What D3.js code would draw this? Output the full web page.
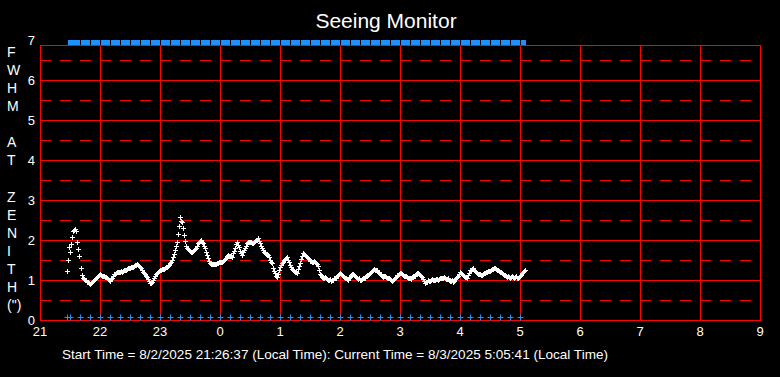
<!DOCTYPE html>
<html lang="en">
<head>
<meta charset="utf-8">
<title>Seeing Monitor</title>
<script src="https://d3js.org/d3.v7.min.js"></script>
<style>
  body { margin: 0; background: #000; }
  svg { display: block; background: #000; }
  text { font-family: "Liberation Sans", Arial, sans-serif; fill: #fff; }
</style>
</head>
<body>
<svg id="chart" width="780" height="377"></svg>
<script>
// ---- data ----
const chartTitle = "Seeing Monitor";
const yTitleLetters = ["F", "W", "H", "M", "", "A", "T", "", "Z", "E", "N", "I", "T", "H", "(\")"];
const yTicks = [0, 1, 2, 3, 4, 5, 6, 7];
const yHalfTicks = [0.5, 1.5, 2.5, 3.5, 4.5, 5.5, 6.5];
const xTickHours = [21, 22, 23, 0, 1, 2, 3, 4, 5, 6, 7, 8, 9];
const footerText = "Start Time = 8/2/2025 21:26:37 (Local Time): Current Time = 8/3/2025 5:05:41 (Local Time)";

// FWHM at zenith, [minutes after 21:00, arcsec]
const seeing = [
  [27,1.22],[28,1.50],[29,1.82],[30,1.70],[31,1.89],[32,2.07],[33,2.22],[34,2.25],[35,2.28],[36,2.22],
  [37,1.94],[38,1.78],[39,1.60],[41,1.30],[42,1.12],[43,1.06],[44,1.02],[45,1.00],[47,0.96],[49,0.92],
  [50,0.90],[51,0.93],[53,0.97],[55,1.02],[57,1.08],[59,1.12],[61,1.13],[63,1.10],[65,1.08],[67,1.06],
  [69,1.01],[70,0.98],[72,1.06],[74,1.14],[76,1.17],[78,1.19],[80,1.21],[82,1.20],[84,1.24],[86,1.26],
  [88,1.29],[90,1.31],[92,1.33],[94,1.34],[96,1.38],[97,1.40],[99,1.36],[101,1.30],[103,1.21],[105,1.14],
  [107,1.08],[109,0.97],[110,0.92],[112,0.96],[113,1.00],[115,1.10],[117,1.17],[119,1.22],[121,1.25],[123,1.27],
  [125,1.30],[127,1.33],[129,1.38],[130,1.42],[132,1.50],[133,1.57],[134,1.64],[135,1.75],[136,1.84],[137,1.94],
  [138,2.14],[139,2.35],[140,2.57],[141,2.48],[142,2.44],[143,2.29],[144,2.12],[145,1.98],[146,1.85],[147,1.80],
  [149,1.75],[151,1.71],[153,1.72],[155,1.77],[157,1.86],[158,1.92],[160,1.97],[161,2.00],[162,1.96],[163,1.92],
  [165,1.80],[166,1.71],[167,1.62],[168,1.54],[169,1.47],[170,1.42],[172,1.40],[174,1.39],[176,1.41],[178,1.43],
  [180,1.44],[182,1.46],[184,1.50],[185,1.52],[187,1.60],[188,1.63],[190,1.60],[192,1.58],[193,1.67],[195,1.79],
  [196,1.90],[197,1.96],[198,1.88],[199,1.83],[200,1.72],[202,1.63],[203,1.70],[204,1.75],[206,1.85],[207,1.92],
  [209,1.95],[210,1.96],[212,1.93],[213,1.92],[215,1.97],[217,2.00],[218,2.04],[219,1.98],[220,1.92],[221,1.85],
  [223,1.75],[225,1.68],[227,1.65],[228,1.63],[229,1.58],[230,1.50],[232,1.42],[233,1.30],[234,1.22],[235,1.17],
  [236,1.10],[237,1.07],[238,1.15],[239,1.25],[240,1.33],[241,1.38],[243,1.46],[245,1.52],[247,1.57],[248,1.50],
  [250,1.38],[251,1.32],[253,1.25],[255,1.21],[257,1.18],[258,1.28],[260,1.42],[261,1.52],[263,1.67],[265,1.62],
  [267,1.57],[269,1.52],[270,1.48],[272,1.46],[274,1.47],[275,1.46],[277,1.40],[278,1.35],[279,1.25],[280,1.15],
  [282,1.08],[284,1.06],[286,1.04],[287,1.03],[289,1.01],[291,0.98],[293,1.01],[295,1.04],[297,1.10],[299,1.15],
  [300,1.17],[302,1.12],[304,1.08],[306,1.05],[308,1.00],[310,1.08],[312,1.15],[314,1.13],[316,1.08],[318,1.02],
  [320,1.01],[322,1.03],[324,1.05],[326,1.09],[328,1.12],[330,1.18],[332,1.23],[334,1.27],[336,1.25],[338,1.21],
  [340,1.15],[342,1.10],[344,1.09],[346,1.08],[348,1.06],[350,1.02],[352,0.98],[354,1.03],[356,1.08],[358,1.13],
  [360,1.18],[362,1.15],[364,1.11],[366,1.09],[368,1.06],[370,1.04],[372,1.07],[374,1.10],[376,1.14],[378,1.18],
  [380,1.12],[382,1.07],[384,0.98],[385,0.93],[387,0.96],[389,0.98],[391,1.00],[393,1.00],[395,1.01],[397,1.02],
  [399,1.03],[401,1.05],[403,1.06],[405,1.04],[407,1.02],[409,1.00],[411,0.98],[413,0.96],[415,1.02],[417,1.07],
  [419,1.15],[420,1.21],[422,1.15],[423,1.12],[425,1.07],[427,1.04],[428,1.12],[430,1.25],[432,1.28],[433,1.29],
  [435,1.22],[437,1.17],[439,1.14],[441,1.12],[443,1.15],[445,1.18],[447,1.21],[449,1.23],[451,1.25],[453,1.28],
  [455,1.29],[457,1.26],[459,1.22],[461,1.19],[463,1.15],[465,1.12],[467,1.08],[469,1.07],[471,1.08],[473,1.08],
  [475,1.07],[477,1.06],[479,1.08],[481,1.12],[482,1.17],[484,1.22],[485,1.25]
];

// in-between readings that give the band its scatter
const seeingScatter = [
  [46,0.99],[48,0.94],[52,0.95],[54,1.00],[56,1.05],[58,1.10],[60,1.14],[62,1.11],[64,1.09],[66,1.07],
  [68,1.03],[71,1.02],[73,1.10],[75,1.16],[77,1.19],[79,1.20],[81,1.22],[83,1.22],[85,1.25],[87,1.27],
  [89,1.30],[91,1.33],[93,1.33],[95,1.37],[98,1.38],[100,1.33],[102,1.25],[104,1.17],[106,1.11],[108,1.02],
  [111,0.93],[114,1.05],[116,1.14],[118,1.20],[120,1.24],[122,1.27],[124,1.28],[126,1.32],[128,1.35],[131,1.46],
  [148,1.78],[150,1.72],[152,1.70],[154,1.74],[156,1.81],[159,1.95],[164,1.86],[171,1.41],[173,1.40],[175,1.40],
  [177,1.42],[179,1.44],[181,1.45],[183,1.48],[186,1.56],[189,1.61],[191,1.59],[194,1.72],[201,1.67],[205,1.80],
  [208,1.94],[211,1.94],[214,1.95],[216,1.99],[222,1.80],[224,1.71],[226,1.66],[231,1.46],[242,1.42],[244,1.49],
  [246,1.55],[249,1.44],[252,1.28],[254,1.23],[256,1.19],[259,1.35],[262,1.60],[264,1.65],[266,1.60],[268,1.55],
  [271,1.47],[273,1.46],[276,1.43],[281,1.12],[283,1.04],[285,1.08],[288,1.00],[290,1.03],[292,0.99],[294,1.06],
  [296,1.05],[298,1.13],[301,1.14],[303,1.11],[305,1.04],[307,1.03],[309,1.05],[311,1.12],[313,1.16],[315,1.09],
  [317,1.06],[319,1.04],[321,0.99],[323,1.06],[325,1.05],[327,1.13],[329,1.14],[331,1.20],[333,1.26],[335,1.24],
  [337,1.24],[339,1.17],[341,1.14],[343,1.07],[345,1.11],[347,1.05],[349,1.05],[351,1.00],[353,1.01],[355,1.05],
  [357,1.12],[359,1.15],[361,1.18],[363,1.12],[365,1.11],[367,1.07],[369,1.06],[371,1.03],[373,1.10],[375,1.11],
  [377,1.17],[379,1.15],[381,1.10],[383,1.03],[386,0.95],[388,0.99],[390,0.97],[392,1.02],[394,0.99],[396,1.03],
  [398,1.01],[400,1.05],[402,1.04],[404,1.07],[406,1.02],[408,1.04],[410,0.98],[412,0.99],[414,0.98],[416,1.05],
  [418,1.10],[421,1.18],[424,1.09],[426,1.07],[429,1.18],[431,1.26],[434,1.26],[436,1.20],[438,1.15],[440,1.14],
  [442,1.13],[444,1.17],[446,1.19],[448,1.23],[450,1.22],[452,1.27],[454,1.30],[456,1.27],[458,1.25],[460,1.19],
  [462,1.18],[464,1.13],[466,1.10],[468,1.09],[470,1.06],[472,1.10],[474,1.06],[476,1.09],[478,1.05],[480,1.10],
  [483,1.19]
];

// blue "+" marks along the bottom (y = 0)
const bottomMarks = [
  "21:26:37", "21:30", "21:40", "21:50", "22:00", "22:10", "22:20", "22:30", "22:40", "22:50",
  "23:00", "23:10", "23:20", "23:30", "23:40", "23:50", "00:00", "00:10", "00:20", "00:30",
  "00:40", "00:50", "01:00", "01:10", "01:20", "01:30", "01:40", "01:50", "02:00", "02:10",
  "02:20", "02:30", "02:40", "02:50", "03:00", "03:10", "03:20", "03:30", "03:40", "03:50",
  "04:00", "04:10", "04:20", "04:30", "04:40", "04:50", "05:00"
];
// blue band along the top (y = 7), split at these times
const bandEdges = [
  "21:26:37", "21:40", "21:50", "22:00", "22:10", "22:20", "22:30", "22:40", "22:50",
  "23:00", "23:10", "23:20", "23:30", "23:40", "23:50", "00:00", "00:10", "00:20", "00:30",
  "00:40", "00:50", "01:00", "01:10", "01:20", "01:30", "01:40", "01:50", "02:00", "02:10",
  "02:20", "02:30", "02:40", "02:50", "03:00", "03:10", "03:20", "03:30", "03:40", "03:50",
  "04:00", "04:10", "04:20", "04:30", "04:40", "04:50", "05:00", "05:05:41"
];

// ---- layout ----
const left = 40, right = 760, boxTop = 45, bottom = 320;
const red = "#ff0000", blue = "#1e90ff";

function toMin(s) {
  const p = s.split(":").map(Number);
  return ((p[0] - 21 + 24) % 24) * 60 + p[1] + (p[2] || 0) / 60;
}

const x = d3.scaleLinear().domain([0, 720]).range([left, right]);
const y = d3.scaleLinear().domain([0, 7]).range([bottom, 40]);
const px = v => Math.round(v) + 0.5;

const svg = d3.select("#chart");

// title
svg.append("text")
  .attr("x", 386).attr("y", 28)
  .attr("text-anchor", "middle")
  .attr("font-size", 21)
  .text(chartTitle);

// grid
const grid = svg.append("g").attr("stroke", red).attr("stroke-width", 1).attr("fill", "none");

grid.selectAll(".hd")
  .data(yHalfTicks)
  .join("line")
  .attr("x1", left).attr("x2", right)
  .attr("y1", d => px(y(d))).attr("y2", d => px(y(d)))
  .attr("stroke-dasharray", "11,9");

grid.selectAll(".hs")
  .data(yTicks.filter(d => d > 0 && d < 7))
  .join("line")
  .attr("x1", left).attr("x2", right)
  .attr("y1", d => px(y(d))).attr("y2", d => px(y(d)));

grid.selectAll(".vs")
  .data(d3.range(0, 721, 60))
  .join("line")
  .attr("x1", d => px(x(d))).attr("x2", d => px(x(d)))
  .attr("y1", boxTop).attr("y2", bottom);

grid.append("rect")
  .attr("x", left + 0.5).attr("y", boxTop + 0.5)
  .attr("width", right - left).attr("height", bottom - boxTop);

// y tick labels
svg.selectAll(".ytick")
  .data(yTicks)
  .join("text")
  .attr("x", 35)
  .attr("y", d => y(d) + 5)
  .attr("text-anchor", "end")
  .attr("font-size", 13)
  .text(d => d);

// x tick labels
svg.selectAll(".xtick")
  .data(xTickHours)
  .join("text")
  .attr("x", (d, i) => x(i * 60))
  .attr("y", 336)
  .attr("text-anchor", "middle")
  .attr("font-size", 13)
  .text(d => d);

// vertical axis title
svg.selectAll(".ylab")
  .data(yTitleLetters)
  .join("text")
  .attr("x", 7)
  .attr("y", (d, i) => 57 + i * 18.07)
  .attr("font-size", 14)
  .text(d => d);

// top blue band
const edges = bandEdges.map(toMin);
svg.append("g").attr("fill", blue)
  .selectAll("rect")
  .data(d3.pairs(edges))
  .join("rect")
  .attr("x", d => Math.round(x(d[0])) + 1)
  .attr("y", 40)
  .attr("width", d => Math.max(1, Math.round(x(d[1])) - Math.round(x(d[0])) - 1))
  .attr("height", 5);

// bottom blue pluses
svg.append("g").attr("stroke", blue).attr("stroke-width", 1).attr("fill", "none")
  .selectAll("path")
  .data(bottomMarks.map(toMin))
  .join("path")
  .attr("d", d => {
    const cx = px(x(d)), cy = px(y(0)) - 3;
    return `M${cx - 3},${cy}H${cx + 3}M${cx},${cy - 3}V${cy + 3}`;
  });

// seeing data pluses
svg.append("g").attr("stroke", "#fff").attr("stroke-width", 1).attr("fill", "none")
  .selectAll("path")
  .data(seeing.concat(seeingScatter))
  .join("path")
  .attr("d", d => {
    const cx = px(x(d[0])), cy = px(y(d[1]));
    return `M${cx - 2.5},${cy}H${cx + 2.5}M${cx},${cy - 2.5}V${cy + 2.5}`;
  });

// footer
svg.append("text")
  .attr("x", 62).attr("y", 359)
  .attr("font-size", 13)
  .attr("textLength", 546)
  .attr("lengthAdjust", "spacingAndGlyphs")
  .text(footerText);
</script>
</body>
</html>
